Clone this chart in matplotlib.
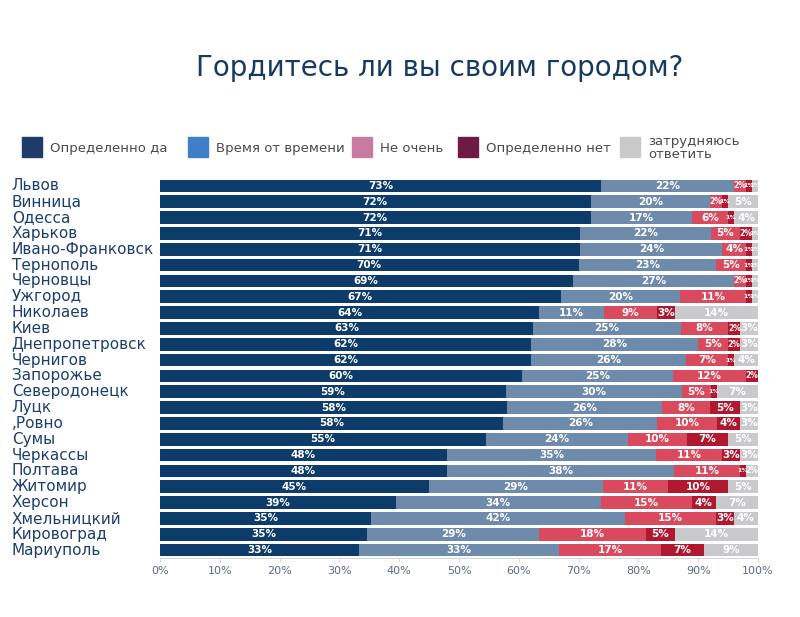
import matplotlib.pyplot as plt
import matplotlib.patches as mpatches
import numpy as np

plt.rcParams['font.family'] = ['DejaVu Sans']

# данные
cities = ['Львов', 'Винница', 'Одесса', 'Харьков', 'Ивано-Франковск', 'Тернополь',
          'Черновцы', 'Ужгород', 'Николаев', 'Киев', 'Днепропетровск', 'Чернигов',
          'Запорожье', 'Северодонецк', 'Луцк', ',Ровно', 'Сумы', 'Черкассы',
          'Полтава', 'Житомир', 'Херсон', 'Хмельницкий', 'Кировоград', 'Мариуполь']
definitely_yes = [73, 72, 72, 71, 71, 70, 69, 67, 64, 63, 62, 62, 60, 59, 58, 58, 55, 48, 48, 45, 39, 35, 35, 33]
sometimes = [22, 20, 17, 22, 24, 23, 27, 20, 11, 25, 28, 26, 25, 30, 26, 26, 24, 35, 38, 29, 34, 42, 29, 33]
not_really = [2, 2, 6, 5, 4, 5, 2, 11, 9, 8, 5, 7, 12, 5, 8, 10, 10, 11, 11, 11, 15, 15, 18, 17]
definitely_no = [1, 1, 1, 2, 1, 1, 1, 1, 3, 2, 2, 1, 2, 1, 5, 4, 7, 3, 1, 10, 4, 3, 5, 7]
hard_to_say = [1, 5, 4, 1, 1, 1, 1, 1, 14, 3, 3, 4, 0, 7, 3, 3, 5, 3, 2, 5, 7, 4, 14, 9]

series = [definitely_yes, sometimes, not_really, definitely_no, hard_to_say]
legend_labels = ['Определенно да', 'Время от времени', 'Не очень', 'Определенно нет',
                 'затрудняюсь\nответить']
bar_colors = ['#0d3b6a', '#6f8bab', '#d94a5e', '#b01830', '#c9c9cc']
legend_colors = ['#1d3d68', '#3f7ec8', '#c77ba0', '#6d1a45', '#c9c9c9']
text_color = '#1b3f6e'

data = np.array(series, dtype=float)
totals = data.sum(axis=0)
shares = data / totals * 100

fig = plt.figure(figsize=(8, 6.17), dpi=100)
ax = fig.add_axes([0.2, 0.0956, 0.7475, 0.616])

y = np.arange(len(cities))
left = np.zeros(len(cities))
for k in range(len(series)):
    ax.barh(y, shares[k], left=left, height=0.8, color=bar_colors[k], linewidth=0)
    for i in range(len(cities)):
        v = series[k][i]
        if v > 0:
            fs = 7.5 if v >= 3 else (5.5 if v == 2 else 4.5)
            ax.text(left[i] + shares[k][i] / 2, y[i], f'{v}%', ha='center', va='center',
                    color='white', fontsize=fs, fontweight='bold')
    left += shares[k]

ax.set_xlim(0, 100)
ax.set_ylim(len(cities) - 0.5, -0.5)
ax.set_yticks([])
ax.set_xticks(np.arange(0, 101, 10))
ax.set_xticklabels([f'{t}%' for t in range(0, 101, 10)], fontsize=8, color='#5a6a80')
ax.tick_params(axis='x', length=3, color='#d0d8e0', pad=3)
for s in ['top', 'right', 'left']:
    ax.spines[s].set_visible(False)
ax.spines['bottom'].set_color('#d0d8e0')

# подписи городов
for i, c in enumerate(cities):
    ax.text(-24.8, y[i], c, ha='left', va='center', fontsize=11, color=text_color)

# заголовок
fig.text(0.55, 0.89, 'Гордитесь ли вы своим городом?', ha='center', va='center',
         fontsize=20, color='#163a60')

# легенда
leg_x = [22, 188, 352, 458, 620]
for k in range(5):
    x0 = leg_x[k] / 800
    fig.patches.append(mpatches.Rectangle((x0, 1 - 157 / 617), 20 / 800, 20 / 617,
                                          transform=fig.transFigure, color=legend_colors[k]))
    fig.text(x0 + 28 / 800, 1 - 148 / 617, legend_labels[k], ha='left', va='center',
             fontsize=9.5, color='#4a4a4a', linespacing=1.0)

plt.savefig('out.png', dpi=100)
